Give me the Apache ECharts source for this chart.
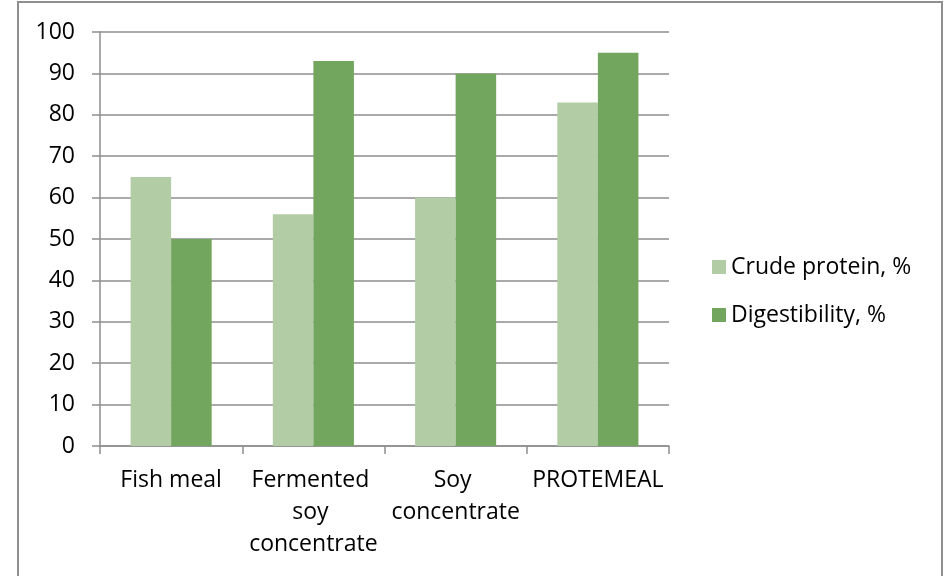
<!DOCTYPE html>
<html>
<head>
<meta charset="utf-8">
<script src="https://cdn.jsdelivr.net/npm/echarts@6/dist/echarts.min.js"></script>
<style>
  html, body { margin: 0; padding: 0; background: #fff; }
  #main { width: 950px; height: 576px; }
</style>
</head>
<body>
<div id="main"></div>
<script>
// data
var categories = ['Fish meal', 'Fermented soy concentrate', 'Soy concentrate', 'PROTEMEAL'];
var crudeProtein = [65, 56, 60, 83];
var digestibility = [50, 93, 90, 95];
var seriesNames = ['Crude protein, %', 'Digestibility, %'];

var font = '"Open Sans", "Noto Sans", sans-serif';
var gray = '#8e8e8e';

var myChart = echarts.init(document.getElementById('main'));
myChart.setOption({
    animation: false,
    textStyle: {fontFamily: font},
    graphic: [{
        type: 'rect',
        shape: {x: 18, y: 2, width: 924, height: 590},
        style: {fill: 'none', stroke: gray, lineWidth: 2},
        silent: true
    }],
    grid: {left: 100, right: 281, top: 32, bottom: 130, outerBoundsMode: 'none'},
    legend: {
        orient: 'vertical',
        left: 712,
        top: 255,
        padding: 0,
        itemWidth: 14,
        itemHeight: 14,
        itemGap: 24,
        icon: 'rect',
        textStyle: {fontSize: 23, color: '#000', fontFamily: font, lineHeight: 24},
        data: seriesNames
    },
    xAxis: {
        type: 'category',
        data: categories,
        axisLine: {lineStyle: {color: gray, width: 1.5}},
        axisTick: {show: true, length: 8, lineStyle: {color: gray, width: 1.5}},
        axisLabel: {
            color: '#000',
            fontSize: 23,
            fontFamily: font,
            lineHeight: 32,
            margin: 18,
            interval: 0,
            width: 145,
            overflow: 'break',
            align: 'center'
        }
    },
    yAxis: {
        type: 'value',
        min: 0,
        max: 100,
        interval: 10,
        axisLine: {show: true, lineStyle: {color: gray, width: 1.5}},
        axisTick: {show: true, length: 8, lineStyle: {color: gray, width: 1.5}},
        splitLine: {lineStyle: {color: gray, width: 1.5}},
        axisLabel: {color: '#000', fontSize: 23, fontFamily: font, margin: 25}
    },
    series: [
        {
            name: seriesNames[0],
            type: 'bar',
            data: crudeProtein,
            barGap: '0%',
            barCategoryGap: '43%',
            itemStyle: {color: '#b2cca6'}
        },
        {
            name: seriesNames[1],
            type: 'bar',
            data: digestibility,
            barGap: '0%',
            barCategoryGap: '43%',
            itemStyle: {color: '#72a55d'}
        }
    ]
});
</script>
</body>
</html>
